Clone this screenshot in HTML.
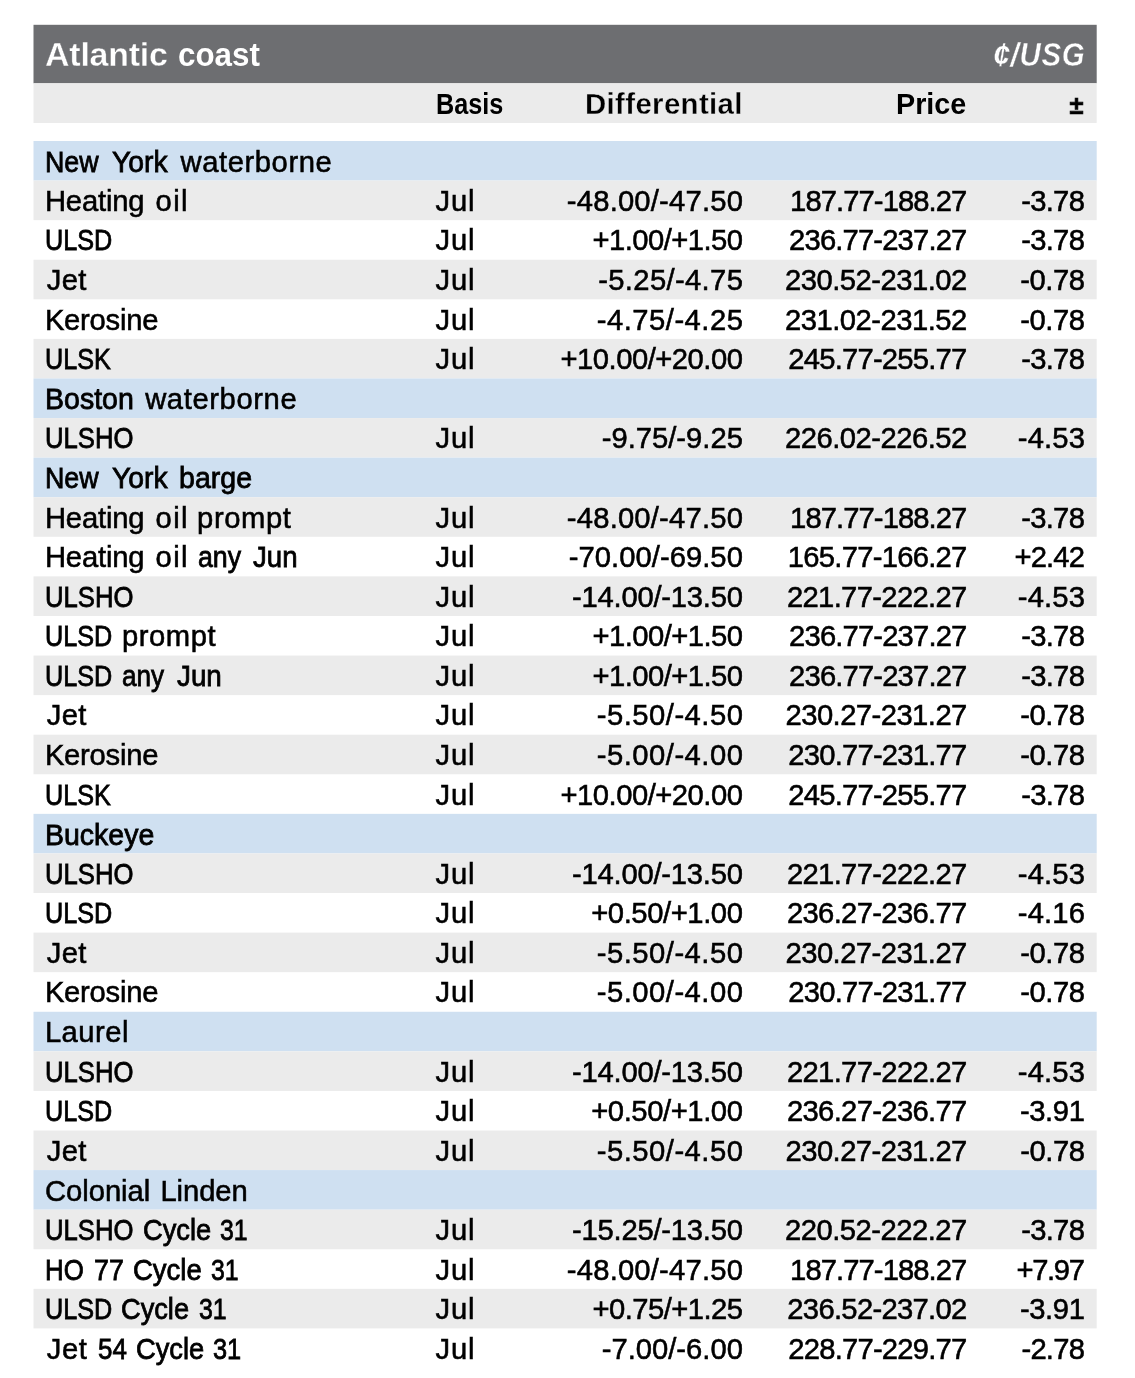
<!DOCTYPE html>
<html><head><meta charset="utf-8"><title>Atlantic coast</title>
<style>
html,body{margin:0;padding:0;background:#fff;}
body{width:1135px;height:1378px;position:relative;overflow:hidden;font-family:"Liberation Sans",Arial,sans-serif;color:#000;}
svg{position:absolute;left:0;top:0;}
.r{position:absolute;left:33.5px;width:1063.2px;height:40px;font-size:29.2px;line-height:40px;white-space:nowrap;-webkit-text-stroke:0.55px #000;}
.r span{position:absolute;top:0;transform-origin:0 50%;}
.b{left:402.1px;letter-spacing:0.76px;}
.d,.p,.c{font-size:29.2px;}
.d{right:353.8px;}
.p{right:129.4px;}
.c{right:11.8px;}
#t{color:#fff;font-weight:bold;font-size:33.9px;-webkit-text-stroke:0.35px #6d6e71;}
#t .q{transform-origin:100% 50%;transform:scaleX(0.88);font-style:italic;font-weight:bold;font-size:33.4px;-webkit-text-stroke:0.4px #6d6e71;}
#h{font-weight:bold;font-size:29.4px;-webkit-text-stroke:0.3px #ebebeb;}
#h .pm{font-size:25.5px;left:1035.9px;-webkit-text-stroke:0.7px #000;}
</style></head><body>
<svg width="1135" height="1378" viewBox="0 0 1135 1378">
<rect x="33.5" y="24.80" width="1063.2" height="58.50" fill="#6d6e71"/>
<rect x="33.5" y="83.30" width="1063.2" height="39.65" fill="#ebebeb"/>
<rect x="33.5" y="141.00" width="1063.2" height="39.58" fill="#cfe0f1"/>
<rect x="33.5" y="180.58" width="1063.2" height="39.58" fill="#ebebeb"/>
<rect x="33.5" y="259.74" width="1063.2" height="39.58" fill="#ebebeb"/>
<rect x="33.5" y="338.90" width="1063.2" height="39.58" fill="#ebebeb"/>
<rect x="33.5" y="378.48" width="1063.2" height="39.58" fill="#cfe0f1"/>
<rect x="33.5" y="418.06" width="1063.2" height="39.58" fill="#ebebeb"/>
<rect x="33.5" y="457.64" width="1063.2" height="39.58" fill="#cfe0f1"/>
<rect x="33.5" y="497.22" width="1063.2" height="39.58" fill="#ebebeb"/>
<rect x="33.5" y="576.38" width="1063.2" height="39.58" fill="#ebebeb"/>
<rect x="33.5" y="655.54" width="1063.2" height="39.58" fill="#ebebeb"/>
<rect x="33.5" y="734.70" width="1063.2" height="39.58" fill="#ebebeb"/>
<rect x="33.5" y="813.86" width="1063.2" height="39.58" fill="#cfe0f1"/>
<rect x="33.5" y="853.44" width="1063.2" height="39.58" fill="#ebebeb"/>
<rect x="33.5" y="932.60" width="1063.2" height="39.58" fill="#ebebeb"/>
<rect x="33.5" y="1011.76" width="1063.2" height="39.58" fill="#cfe0f1"/>
<rect x="33.5" y="1051.34" width="1063.2" height="39.58" fill="#ebebeb"/>
<rect x="33.5" y="1130.50" width="1063.2" height="39.58" fill="#ebebeb"/>
<rect x="33.5" y="1170.08" width="1063.2" height="39.58" fill="#cfe0f1"/>
<rect x="33.5" y="1209.66" width="1063.2" height="39.58" fill="#ebebeb"/>
<rect x="33.5" y="1288.82" width="1063.2" height="39.58" fill="#ebebeb"/>
</svg>
<div id="t" class="r" style="top:33.80px"><span style="left:11.6px;letter-spacing:-0.23px">Atlantic</span> <span style="-webkit-text-stroke-width:0;left:144.1px;transform:scaleX(0.924)">coast</span> <span class="q" style="top:1.00px;right:12.1px;letter-spacing:0.83px;margin-right:-0.73px">¢/USG</span></div>
<div id="h" class="r" style="top:84.10px"><span style="-webkit-text-stroke-width:0;left:402.3px;transform:scaleX(0.858)">Basis</span> <span style="left:551.5px;letter-spacing:0.36px">Differential</span> <span style="-webkit-text-stroke-width:0;left:862.4px;transform:scaleX(0.978)">Price</span> <span class="pm" style="top:1.20px">±</span></div>
<div class="r" style="top:142.00px"><span style="-webkit-text-stroke-width:0.80px;left:11.6px;transform:scaleX(0.919)">New</span> <span style="-webkit-text-stroke-width:0.80px;left:78.8px;transform:scaleX(0.970)">York</span> <span style="left:147.1px;letter-spacing:0.57px">waterborne</span></div>
<div class="r" style="top:181.00px"><span style="left:11.4px;letter-spacing:-0.15px">Heating</span> <span style="left:122.1px;letter-spacing:1.32px">oil</span> <span class="b">Jul</span> <span class="d" style="letter-spacing:0.20px;margin-right:-0.20px">-48.00/-47.50</span> <span class="p" style="letter-spacing:-0.92px;margin-right:0.92px">187.77-188.27</span> <span class="c" style="letter-spacing:-0.69px;margin-right:0.69px">-3.78</span></div>
<div class="r" style="top:220.00px"><span style="-webkit-text-stroke-width:0.80px;left:11.7px;transform:scaleX(0.864)">ULSD</span> <span class="b">Jul</span> <span class="d" style="letter-spacing:-0.55px;margin-right:0.55px">+1.00/+1.50</span> <span class="p" style="letter-spacing:-0.84px;margin-right:0.84px">236.77-237.27</span> <span class="c" style="letter-spacing:-0.69px;margin-right:0.69px">-3.78</span></div>
<div class="r" style="top:260.00px"><span style="left:13.2px;letter-spacing:0.41px">Jet</span> <span class="b">Jul</span> <span class="d" style="letter-spacing:0.35px;margin-right:-0.35px">-5.25/-4.75</span> <span class="p" style="letter-spacing:-0.50px;margin-right:0.50px">230.52-231.02</span> <span class="c" style="letter-spacing:-0.47px;margin-right:0.47px">-0.78</span></div>
<div class="r" style="top:300.00px"><span style="left:11.4px;letter-spacing:-0.24px">Kerosine</span> <span class="b">Jul</span> <span class="d" style="letter-spacing:0.49px;margin-right:-0.49px">-4.75/-4.25</span> <span class="p" style="letter-spacing:-0.50px;margin-right:0.50px">231.02-231.52</span> <span class="c" style="letter-spacing:-0.47px;margin-right:0.47px">-0.78</span></div>
<div class="r" style="top:339.00px"><span style="-webkit-text-stroke-width:0.80px;left:11.7px;transform:scaleX(0.863)">ULSK</span> <span class="b">Jul</span> <span class="d" style="letter-spacing:-0.49px;margin-right:0.49px">+10.00/+20.00</span> <span class="p" style="letter-spacing:-0.77px;margin-right:0.77px">245.77-255.77</span> <span class="c" style="letter-spacing:-0.69px;margin-right:0.69px">-3.78</span></div>
<div class="r" style="top:379.00px"><span style="-webkit-text-stroke-width:0.80px;left:11.5px;transform:scaleX(0.977)">Boston</span> <span style="left:111.7px;letter-spacing:0.60px">waterborne</span></div>
<div class="r" style="top:418.00px"><span style="-webkit-text-stroke-width:0.80px;left:11.7px;transform:scaleX(0.879)">ULSHO</span> <span class="b">Jul</span> <span class="d" style="letter-spacing:0.00px;margin-right:-0.00px">-9.75/-9.25</span> <span class="p" style="letter-spacing:-0.50px;margin-right:0.50px">226.02-226.52</span> <span class="c" style="letter-spacing:0.13px;margin-right:-0.13px">-4.53</span></div>
<div class="r" style="top:458.00px"><span style="-webkit-text-stroke-width:0.80px;left:11.6px;transform:scaleX(0.919)">New</span> <span style="-webkit-text-stroke-width:0.80px;left:78.8px;transform:scaleX(0.970)">York</span> <span style="-webkit-text-stroke-width:0.80px;left:145.2px;transform:scaleX(0.978)">barge</span></div>
<div class="r" style="top:498.00px"><span style="left:11.4px;letter-spacing:-0.15px">Heating</span> <span style="left:122.1px;letter-spacing:1.32px">oil</span> <span style="left:163.6px;letter-spacing:0.60px">prompt</span> <span class="b">Jul</span> <span class="d" style="letter-spacing:0.20px;margin-right:-0.20px">-48.00/-47.50</span> <span class="p" style="letter-spacing:-0.92px;margin-right:0.92px">187.77-188.27</span> <span class="c" style="letter-spacing:-0.69px;margin-right:0.69px">-3.78</span></div>
<div class="r" style="top:537.00px"><span style="left:11.4px;letter-spacing:-0.15px">Heating</span> <span style="left:122.1px;letter-spacing:1.32px">oil</span> <span style="-webkit-text-stroke-width:0.80px;left:164.1px;transform:scaleX(0.916)">any</span> <span style="-webkit-text-stroke-width:0.80px;left:219.2px;transform:scaleX(0.946)">Jun</span> <span class="b">Jul</span> <span class="d" style="letter-spacing:0.04px;margin-right:-0.04px">-70.00/-69.50</span> <span class="p" style="letter-spacing:-0.73px;margin-right:0.73px">165.77-166.27</span> <span class="c" style="letter-spacing:-0.87px;margin-right:0.87px">+2.42</span></div>
<div class="r" style="top:577.00px"><span style="-webkit-text-stroke-width:0.80px;left:11.7px;transform:scaleX(0.879)">ULSHO</span> <span class="b">Jul</span> <span class="d" style="letter-spacing:-0.23px;margin-right:0.23px">-14.00/-13.50</span> <span class="p" style="letter-spacing:-0.66px;margin-right:0.66px">221.77-222.27</span> <span class="c" style="letter-spacing:0.13px;margin-right:-0.13px">-4.53</span></div>
<div class="r" style="top:616.00px"><span style="-webkit-text-stroke-width:0.80px;left:11.7px;transform:scaleX(0.864)">ULSD</span> <span style="left:88.5px;letter-spacing:0.56px">prompt</span> <span class="b">Jul</span> <span class="d" style="letter-spacing:-0.55px;margin-right:0.55px">+1.00/+1.50</span> <span class="p" style="letter-spacing:-0.84px;margin-right:0.84px">236.77-237.27</span> <span class="c" style="letter-spacing:-0.69px;margin-right:0.69px">-3.78</span></div>
<div class="r" style="top:656.00px"><span style="-webkit-text-stroke-width:0.80px;left:11.7px;transform:scaleX(0.864)">ULSD</span> <span style="-webkit-text-stroke-width:0.80px;left:88.7px;transform:scaleX(0.895)">any</span> <span style="-webkit-text-stroke-width:0.80px;left:143.6px;transform:scaleX(0.952)">Jun</span> <span class="b">Jul</span> <span class="d" style="letter-spacing:-0.55px;margin-right:0.55px">+1.00/+1.50</span> <span class="p" style="letter-spacing:-0.84px;margin-right:0.84px">236.77-237.27</span> <span class="c" style="letter-spacing:-0.69px;margin-right:0.69px">-3.78</span></div>
<div class="r" style="top:695.00px"><span style="left:13.2px;letter-spacing:0.41px">Jet</span> <span class="b">Jul</span> <span class="d" style="letter-spacing:0.49px;margin-right:-0.49px">-5.50/-4.50</span> <span class="p" style="letter-spacing:-0.54px;margin-right:0.54px">230.27-231.27</span> <span class="c" style="letter-spacing:-0.47px;margin-right:0.47px">-0.78</span></div>
<div class="r" style="top:735.00px"><span style="left:11.4px;letter-spacing:-0.24px">Kerosine</span> <span class="b">Jul</span> <span class="d" style="letter-spacing:0.49px;margin-right:-0.49px">-5.00/-4.00</span> <span class="p" style="letter-spacing:-0.77px;margin-right:0.77px">230.77-231.77</span> <span class="c" style="letter-spacing:-0.47px;margin-right:0.47px">-0.78</span></div>
<div class="r" style="top:775.00px"><span style="-webkit-text-stroke-width:0.80px;left:11.7px;transform:scaleX(0.863)">ULSK</span> <span class="b">Jul</span> <span class="d" style="letter-spacing:-0.49px;margin-right:0.49px">+10.00/+20.00</span> <span class="p" style="letter-spacing:-0.77px;margin-right:0.77px">245.77-255.77</span> <span class="c" style="letter-spacing:-0.69px;margin-right:0.69px">-3.78</span></div>
<div class="r" style="top:815.00px"><span style="-webkit-text-stroke-width:0.80px;left:11.5px;transform:scaleX(0.976)">Buckeye</span></div>
<div class="r" style="top:854.00px"><span style="-webkit-text-stroke-width:0.80px;left:11.7px;transform:scaleX(0.879)">ULSHO</span> <span class="b">Jul</span> <span class="d" style="letter-spacing:-0.23px;margin-right:0.23px">-14.00/-13.50</span> <span class="p" style="letter-spacing:-0.66px;margin-right:0.66px">221.77-222.27</span> <span class="c" style="letter-spacing:0.13px;margin-right:-0.13px">-4.53</span></div>
<div class="r" style="top:893.00px"><span style="-webkit-text-stroke-width:0.80px;left:11.7px;transform:scaleX(0.864)">ULSD</span> <span class="b">Jul</span> <span class="d" style="letter-spacing:-0.41px;margin-right:0.41px">+0.50/+1.00</span> <span class="p" style="letter-spacing:-0.66px;margin-right:0.66px">236.27-236.77</span> <span class="c" style="letter-spacing:0.13px;margin-right:-0.13px">-4.16</span></div>
<div class="r" style="top:933.00px"><span style="left:13.2px;letter-spacing:0.41px">Jet</span> <span class="b">Jul</span> <span class="d" style="letter-spacing:0.49px;margin-right:-0.49px">-5.50/-4.50</span> <span class="p" style="letter-spacing:-0.54px;margin-right:0.54px">230.27-231.27</span> <span class="c" style="letter-spacing:-0.47px;margin-right:0.47px">-0.78</span></div>
<div class="r" style="top:972.00px"><span style="left:11.4px;letter-spacing:-0.24px">Kerosine</span> <span class="b">Jul</span> <span class="d" style="letter-spacing:0.49px;margin-right:-0.49px">-5.00/-4.00</span> <span class="p" style="letter-spacing:-0.77px;margin-right:0.77px">230.77-231.77</span> <span class="c" style="letter-spacing:-0.47px;margin-right:0.47px">-0.78</span></div>
<div class="r" style="top:1012.00px"><span style="left:11.4px;letter-spacing:0.50px">Laurel</span></div>
<div class="r" style="top:1052.00px"><span style="-webkit-text-stroke-width:0.80px;left:11.7px;transform:scaleX(0.879)">ULSHO</span> <span class="b">Jul</span> <span class="d" style="letter-spacing:-0.23px;margin-right:0.23px">-14.00/-13.50</span> <span class="p" style="letter-spacing:-0.66px;margin-right:0.66px">221.77-222.27</span> <span class="c" style="letter-spacing:0.13px;margin-right:-0.13px">-4.53</span></div>
<div class="r" style="top:1091.00px"><span style="-webkit-text-stroke-width:0.80px;left:11.7px;transform:scaleX(0.864)">ULSD</span> <span class="b">Jul</span> <span class="d" style="letter-spacing:-0.41px;margin-right:0.41px">+0.50/+1.00</span> <span class="p" style="letter-spacing:-0.66px;margin-right:0.66px">236.27-236.77</span> <span class="c" style="letter-spacing:-0.39px;margin-right:0.39px">-3.91</span></div>
<div class="r" style="top:1131.00px"><span style="left:13.2px;letter-spacing:0.41px">Jet</span> <span class="b">Jul</span> <span class="d" style="letter-spacing:0.49px;margin-right:-0.49px">-5.50/-4.50</span> <span class="p" style="letter-spacing:-0.54px;margin-right:0.54px">230.27-231.27</span> <span class="c" style="letter-spacing:-0.47px;margin-right:0.47px">-0.78</span></div>
<div class="r" style="top:1171.00px"><span style="left:11.6px;letter-spacing:-0.06px">Colonial</span> <span style="left:126.9px;letter-spacing:-0.07px">Linden</span></div>
<div class="r" style="top:1210.00px"><span style="-webkit-text-stroke-width:0.80px;left:11.7px;transform:scaleX(0.879)">ULSHO</span> <span style="-webkit-text-stroke-width:0.80px;left:109.5px;transform:scaleX(0.935)">Cycle</span> <span style="-webkit-text-stroke-width:0.80px;left:186.3px;transform:scaleX(0.851)">31</span> <span class="b">Jul</span> <span class="d" style="letter-spacing:-0.23px;margin-right:0.23px">-15.25/-13.50</span> <span class="p" style="letter-spacing:-0.50px;margin-right:0.50px">220.52-222.27</span> <span class="c" style="letter-spacing:-0.69px;margin-right:0.69px">-3.78</span></div>
<div class="r" style="top:1250.00px"><span style="-webkit-text-stroke-width:0.80px;left:11.7px;transform:scaleX(0.884)">HO</span> <span style="-webkit-text-stroke-width:0.80px;left:60.1px;transform:scaleX(0.918)">77</span> <span style="-webkit-text-stroke-width:0.80px;left:99.7px;transform:scaleX(0.942)">Cycle</span> <span style="-webkit-text-stroke-width:0.80px;left:177.3px;transform:scaleX(0.851)">31</span> <span class="b">Jul</span> <span class="d" style="letter-spacing:0.20px;margin-right:-0.20px">-48.00/-47.50</span> <span class="p" style="letter-spacing:-0.92px;margin-right:0.92px">187.77-188.27</span> <span class="c" style="letter-spacing:-1.35px;margin-right:1.35px">+7.97</span></div>
<div class="r" style="top:1289.00px"><span style="-webkit-text-stroke-width:0.80px;left:11.7px;transform:scaleX(0.864)">ULSD</span> <span style="-webkit-text-stroke-width:0.80px;left:87.8px;transform:scaleX(0.932)">Cycle</span> <span style="-webkit-text-stroke-width:0.80px;left:165.1px;transform:scaleX(0.854)">31</span> <span class="b">Jul</span> <span class="d" style="letter-spacing:-0.55px;margin-right:0.55px">+0.75/+1.25</span> <span class="p" style="letter-spacing:-0.69px;margin-right:0.69px">236.52-237.02</span> <span class="c" style="letter-spacing:-0.39px;margin-right:0.39px">-3.91</span></div>
<div class="r" style="top:1329.00px"><span style="left:13.2px;letter-spacing:0.66px">Jet</span> <span style="-webkit-text-stroke-width:0.80px;left:64.2px;transform:scaleX(0.890)">54</span> <span style="-webkit-text-stroke-width:0.80px;left:102.4px;transform:scaleX(0.935)">Cycle</span> <span style="-webkit-text-stroke-width:0.80px;left:179.9px;transform:scaleX(0.870)">31</span> <span class="b">Jul</span> <span class="d" style="letter-spacing:0.00px;margin-right:-0.00px">-7.00/-6.00</span> <span class="p" style="letter-spacing:-0.77px;margin-right:0.77px">228.77-229.77</span> <span class="c" style="letter-spacing:-0.77px;margin-right:0.77px">-2.78</span></div>
</body></html>
